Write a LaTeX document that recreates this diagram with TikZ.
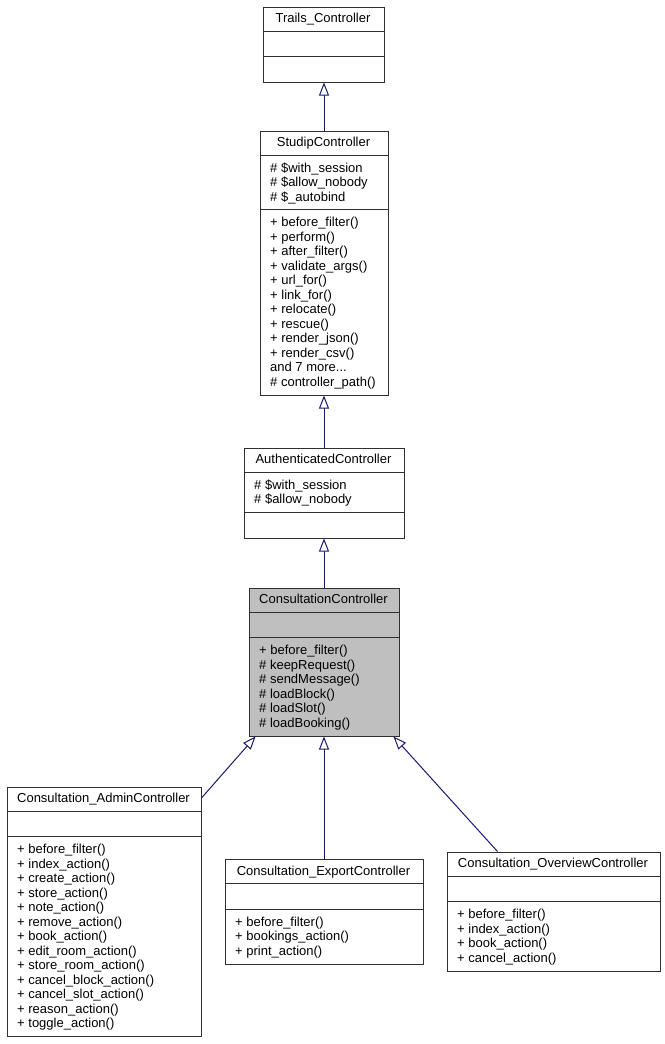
\documentclass[tikz,border=0pt]{standalone}
\usepackage{fontspec}
\setmainfont{Liberation Sans}
\usetikzlibrary{arrows.meta}
\definecolor{edgeblue}{HTML}{191970}
\definecolor{boxline}{HTML}{303030}
\definecolor{grey75}{HTML}{BFBFBF}
\tikzset{
  cls/.style={draw=boxline, line width=1pt, fill=white, rectangle, inner sep=0pt, anchor=north west},
  clsmain/.style={cls, fill=grey75},
  divider/.style={draw=boxline, line width=1pt},
  ttl/.style={anchor=base, inner sep=0pt, font=\fontsize{13}{14.5}\selectfont},
  mem/.style={anchor=north west, inner sep=0pt, align=left, font=\fontsize{13}{14.5}\selectfont},
  inh/.style={draw=edgeblue, line width=1pt, -{Triangle[open, length=13pt, width=10pt, fill=white]}},
}
\newcommand{\fs}{\rule{0pt}{10.5pt}}
\begin{document}
\begin{tikzpicture}[x=1pt, y=-1pt]
\useasboundingbox (0,0) rectangle (664,1044);

% Trails_Controller
\node[cls, minimum width=121pt, minimum height=75pt] (trails) at (262.5,6.5) {};
\draw[divider] (trails.west |- 0,31.5) -- (trails.east |- 0,31.5);
\draw[divider] (trails.west |- 0,56.5) -- (trails.east |- 0,56.5);
\node[ttl] (trails-t) at (323,22.8) {Trails\_Controller};

% StudipController
\node[cls, minimum width=128pt, minimum height=264pt] (studip) at (259.5,130.5) {};
\draw[divider] (studip.west |- 0,155.5) -- (studip.east |- 0,155.5);
\draw[divider] (studip.west |- 0,209.5) -- (studip.east |- 0,209.5);
\node[ttl] (studip-t) at (323.5,146.8) {StudipController};
\node[mem] (studip-a) at (270,161.6) {\fs\# \$with\_session\\\# \$allow\_nobody\\\# \$\_autobind};
\node[mem] (studip-m) at (270,215.9) {\fs+ before\_filter()\\+ perform()\\+ after\_filter()\\+ validate\_args()\\+ url\_for()\\+ link\_for()\\+ relocate()\\+ rescue()\\+ render\_json()\\+ render\_csv()\\and 7 more...\\\# controller\_path()};

% AuthenticatedController
\node[cls, minimum width=160pt, minimum height=90pt] (auth) at (243.5,447.5) {};
\draw[divider] (auth.west |- 0,472.5) -- (auth.east |- 0,472.5);
\draw[divider] (auth.west |- 0,512.5) -- (auth.east |- 0,512.5);
\node[ttl] (auth-t) at (323.5,463.8) {AuthenticatedController};
\node[mem] (auth-a) at (254,478.6) {\fs\# \$with\_session\\\# \$allow\_nobody};

% ConsultationController
\node[clsmain, minimum width=150pt, minimum height=148pt] (consult) at (248.5,587.5) {};
\draw[divider] (consult.west |- 0,612.5) -- (consult.east |- 0,612.5);
\draw[divider] (consult.west |- 0,637.5) -- (consult.east |- 0,637.5);
\node[ttl] (consult-t) at (323.5,603.8) {ConsultationController};
\node[mem] (consult-m) at (259,643.9) {\fs+ before\_filter()\\\# keepRequest()\\\# sendMessage()\\\# loadBlock()\\\# loadSlot()\\\# loadBooking()};

% Consultation_AdminController
\node[cls, minimum width=194pt, minimum height=249pt] (admin) at (6.5,786.5) {};
\draw[divider] (admin.west |- 0,811.5) -- (admin.east |- 0,811.5);
\draw[divider] (admin.west |- 0,836.5) -- (admin.east |- 0,836.5);
\node[ttl] (admin-t) at (103.5,802.8) {Consultation\_AdminController};
\node[mem] (admin-m) at (17,842.9) {\fs+ before\_filter()\\+ index\_action()\\+ create\_action()\\+ store\_action()\\+ note\_action()\\+ remove\_action()\\+ book\_action()\\+ edit\_room\_action()\\+ store\_room\_action()\\+ cancel\_block\_action()\\+ cancel\_slot\_action()\\+ reason\_action()\\+ toggle\_action()};

% Consultation_ExportController
\node[cls, minimum width=198pt, minimum height=105pt] (export) at (224.5,858.5) {};
\draw[divider] (export.west |- 0,883.5) -- (export.east |- 0,883.5);
\draw[divider] (export.west |- 0,909.5) -- (export.east |- 0,909.5);
\node[ttl] (export-t) at (323.5,875.3) {Consultation\_ExportController};
\node[mem] (export-m) at (235,915.4) {\fs+ before\_filter()\\+ bookings\_action()\\+ print\_action()};

% Consultation_OverviewController
\node[cls, minimum width=213pt, minimum height=119pt] (overview) at (446.5,851.5) {};
\draw[divider] (overview.west |- 0,876.5) -- (overview.east |- 0,876.5);
\draw[divider] (overview.west |- 0,901.5) -- (overview.east |- 0,901.5);
\node[ttl] (overview-t) at (553,867.8) {Consultation\_OverviewController};
\node[mem] (overview-m) at (457,907.9) {\fs+ before\_filter()\\+ index\_action()\\+ book\_action()\\+ cancel\_action()};

% inheritance connectors
\draw[inh] (studip.north) -- (studip.north |- trails.south);
\draw[inh] (auth.north) -- (auth.north |- studip.south);
\draw[inh] (consult.north -| auth.north) -- (auth.south);
\draw[inh] (export.north) -- (export.north |- consult.south);
\draw[inh] ([yshift=-11.5pt]admin.north east) -- ([xshift=7pt]consult.south west);
\draw[inh] ([xshift=51pt]overview.north west) -- ([xshift=-6pt]consult.south east);
\end{tikzpicture}
\end{document}
